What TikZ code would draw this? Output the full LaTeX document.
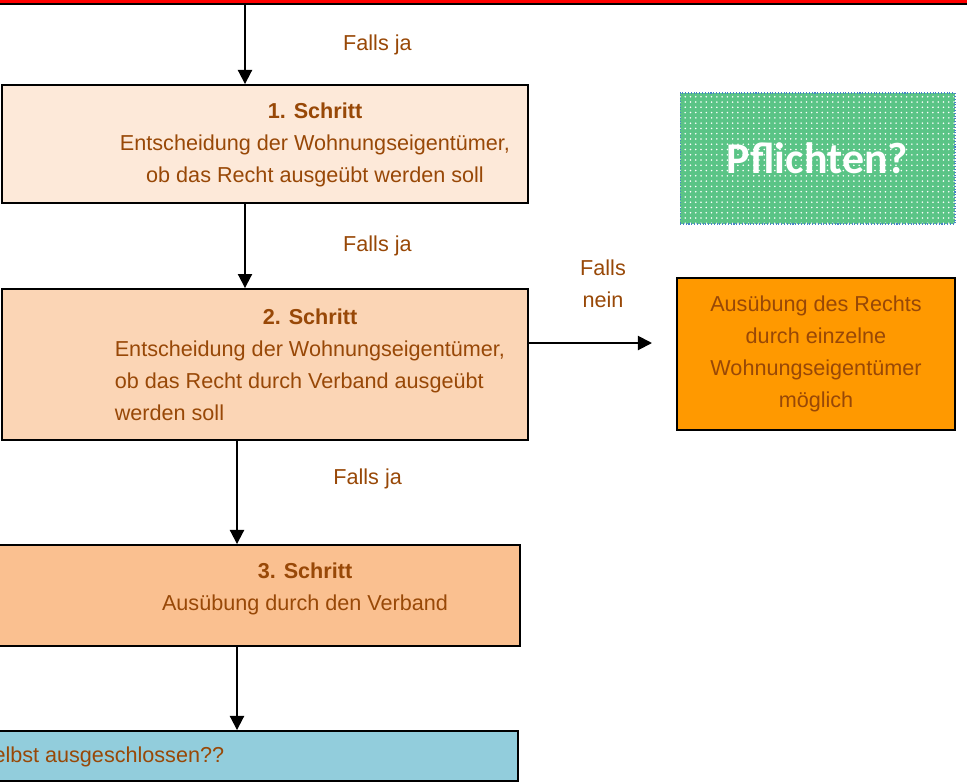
\documentclass[tikz,border=0pt]{standalone}
\usepackage{fontspec}
\setmainfont{Liberation Sans}
\newfontfamily\calfont{Carlito}
\usetikzlibrary{arrows.meta,patterns}

\definecolor{braun}{RGB}{152,72,7}
\definecolor{hell}{RGB}{253,233,217}
\definecolor{pfirsich}{RGB}{251,213,181}
\definecolor{apricot}{RGB}{250,192,144}
\definecolor{orange}{RGB}{255,153,0}
\definecolor{hblau}{RGB}{146,205,220}
\definecolor{gruen}{RGB}{90,196,134}
\definecolor{rahmblau}{RGB}{70,130,200}

\begin{document}
\begin{tikzpicture}[x=0.02cm,y=-0.02cm,>={Triangle[length=8pt,width=8pt]},line width=1.1pt,
    box/.style={draw, rectangle, inner sep=0pt, line width=1.1pt},
    txt/.style={text=braun, font=\fontsize{12.3}{18.2}\selectfont},
    pfeil/.style={->, line width=1.1pt}]
        \useasboundingbox (0,0) rectangle (967,782);
        \clip (0,0) rectangle (967,782);

        \node (top) [box, fill=red, minimum width=29.8cm, minimum height=1.08cm] at (245,-23) {};
        \node (step1) [box, fill=hell, minimum width=10.52cm, minimum height=2.36cm] at (265,144) {};
        \node (step2) [box, fill=pfirsich, minimum width=10.52cm, minimum height=3.02cm] at (265,364.5) {};
        \node (step3) [box, fill=apricot, minimum width=11.32cm, minimum height=2.02cm] at (237,595.5) {};
        \node (frage) [box, fill=hblau, minimum width=11.24cm, minimum height=1.0cm] at (237,756) {};
        \node (einzeln) [box, fill=orange, minimum width=5.56cm, minimum height=3.04cm, txt, align=center] at (816,354)
            {Ausübung des Rechts\\durch einzelne\\Wohnungseigentümer\\möglich};
        \node (pflichten) [rectangle, draw=rahmblau, densely dotted, line width=0.6pt, preaction={fill=gruen},
            pattern=dots, pattern color=white, minimum width=5.5cm, minimum height=2.62cm,
            text=white, font=\calfont\bfseries\fontsize{25}{30}\selectfont] at (817.5,158.5) {Pflichten?};

        % Texte in den Kaesten
        \node (t1) [txt, align=center] at (315,145) {\textbf{1. Schritt}\\Entscheidung der Wohnungseigentümer,\\ob das Recht ausgeübt werden soll};
        \node (t2a) [txt] at (310,317) {\textbf{2. Schritt}};
        \node (t2b) [txt, align=left, anchor=west] at (108,381) {Entscheidung der Wohnungseigentümer,\\ob das Recht durch Verband ausgeübt\\werden soll};
        \node (t3) [txt, align=center] at (305,588.5) {\textbf{3. Schritt}\\Ausübung durch den Verband};
        \node (t4) [txt, anchor=east] at (231,757) {elbst ausgeschlossen??};

        \coordinate (nein) at (652,343);

        \draw[pfeil] (top.south) -- (step1.north -| top.south) node[midway, right=52pt, txt]{Falls ja};
        \draw[pfeil] (step1.south -| top.south) -- (step2.north -| top.south) node[midway, right=52pt, txt]{Falls ja};
        \draw[pfeil] (step2.south -| step3.north) -- (step3.north) node[pos=0.37, right=51pt, txt]{Falls ja};
        \draw[pfeil] (step3.south) -- (frage.north);
        \draw[pfeil] (step2.east |- nein) -- (nein);
        \node (fn) [txt, align=center] at (603,284) {Falls\\nein};
    \end{tikzpicture}
\end{document}
